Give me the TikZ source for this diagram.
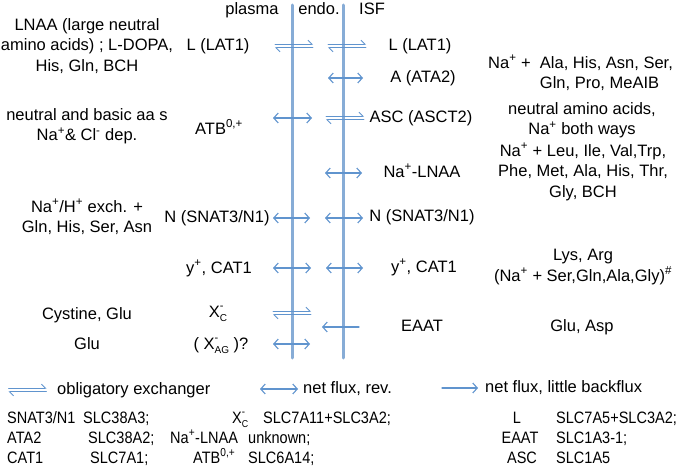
\documentclass[tikz,border=0pt]{standalone}
\usepackage{fontspec}
\setmainfont{Liberation Sans}
\newfontfamily\narrowfont[FakeStretch=0.88]{Liberation Sans}
\usetikzlibrary{arrows.meta}
\definecolor{membblue}{RGB}{135,172,214}
\definecolor{fluxblue}{RGB}{96,148,206}
\newcommand{\ionp}{\textsuperscript{+}}
\newcommand{\xion}[1]{X\makebox[0pt][l]{\raisebox{8pt}{\fontsize{11}{11}\selectfont -}}\raisebox{-4.5pt}{\fontsize{10}{10}\selectfont #1}}
\newcommand{\exch}[2]{\draw[half] (#1-19,#2-1.9) -- (#1+19,#2-1.9); \draw[half] (#1+19,#2+1.9) -- (#1-19,#2+1.9);}
\begin{document}
\begin{tikzpicture}[x=1pt,y=-1pt,font=\fontsize{16.5}{20.5}\selectfont,line cap=round,
	memb/.style={membblue,line width=3pt},
	rev/.style={fluxblue,line width=1.1pt,{Straight Barb[length=4.5pt,width=10pt]}-{Straight Barb[length=4.5pt,width=10pt]}},
	oneway/.style={fluxblue,line width=1.1pt,-{Straight Barb[length=4.5pt,width=10pt]}},
	half/.style={fluxblue,line width=0.9pt,-{Straight Barb[left,length=4pt,width=8pt]}},
	lbl/.style={inner sep=0pt,text height=12pt,text depth=3.5pt},
	blk/.style={inner sep=0pt,align=center},
	tabtext/.style={inner sep=0pt,anchor=west,text height=12pt,text depth=3.5pt,font=\fontsize{16.5}{20}\narrowfont}]
	\def\xa{292} \def\xb{343.5}
	\def\ytop{5} \def\ybot{358}
	\useasboundingbox (0,0) rectangle (685,473);
	% membranes
	\draw[memb] (\xa,\ytop)--(\xa,\ybot);
	\draw[memb] (\xb,\ytop)--(\xb,\ybot);
	\node[lbl] (plasma) at (252,10) {plasma};
	\node[lbl] (endo) at (319,10) {endo.};
	\node[lbl] (isf) at (372,10) {ISF};
	% L
	\node[blk] (lnaa) at (87,46) {LNAA (large neutral\\amino acids) ; L-DOPA,\\His, Gln, BCH};
	\node[lbl] (lplasma) at (218,46) {L (LAT1)};
	\node[lbl] (lisf) at (420,46) {L (LAT1)};
	\exch{294}{46} \exch{347}{46}
	% A
	\node[lbl] (ata2) at (423,78) {A (ATA2)};
	\node[blk,align=left,anchor=west] (alanine) at (488,73) {Na\ionp{} +\ \ Ala, His, Asn, Ser,\\\hphantom{Na\ionp{} +\ \ }Gln, Pro, MeAIB};
	\draw[rev] (328,78)--(363,78);
	% ATB, ASC
	\node[blk] (basic) at (87,126) {neutral and basic aa s\\Na\ionp\& Cl\textsuperscript{-} dep.};
	\node[lbl,anchor=west] (atb) at (195,130) {ATB\textsuperscript{0,+}};
	\node[lbl] (asct2) at (421,118) {ASC (ASCT2)};
	\node[blk] (neutral) at (582,120) {neutral amino acids,\\Na\ionp{} both ways};
	\draw[rev] (273,118)--(312,118);
	\exch{345}{118}
	% Na-LNAA
	\node[lbl] (nalnaa) at (422,173) {Na\ionp-LNAA};
	\node[blk] (leucine) at (583,172) {Na\ionp{} + Leu, Ile, Val,Trp,\\Phe, Met, Ala, His, Thr,\\Gly, BCH};
	\draw[rev] (325,173)--(362,173);
	% N
	\node[blk] (nah) at (87,217) {Na\ionp/H\ionp{} exch. +\\Gln, His, Ser, Asn};
	\node[lbl] (nplasma) at (217,218) {N (SNAT3/N1)};
	\node[lbl] (nisf) at (422,217) {N (SNAT3/N1)};
	\draw[rev] (273,218)--(310,218);
	\draw[rev] (325,218)--(363,218);
	% y+
	\node[lbl] (catplasma) at (219,269) {y\ionp, CAT1};
	\node[lbl] (catisf) at (424,268) {y\ionp, CAT1};
	\node[blk] (lysarg) at (583,267) {Lys, Arg\\(Na\ionp{} + Ser,Gln,Ala,Gly)\textsuperscript{\#}};
	\draw[rev] (273,268)--(311,268);
	\draw[rev] (326,268)--(363,268);
	% Xc, EAAT, Xag
	\node[lbl] (cystine) at (87,315) {Cystine, Glu};
	\node[lbl] (xc) at (218,313) {\xion{C}};
	\exch{292}{313}
	\node[lbl] (eaat) at (422,327) {EAAT};
	\node[lbl] (gluasp) at (582,327) {Glu, Asp};
	\draw[oneway] (359,327)--(322,327);
	\node[lbl] (glu) at (87,345) {Glu};
	\node[lbl] (xag) at (221,345) {( \xion{AG} )?};
	\draw[rev] (273,344)--(310,344);
	% legend
	\exch{27.5}{390}
	\node[lbl,anchor=west] (oblig) at (57,390) {obligatory exchanger};
	\draw[rev] (260,389)--(298,389);
	\node[lbl,anchor=west] (netrev) at (303,389) {net flux, rev.};
	\draw[oneway] (442,388)--(478,388);
	\node[lbl,anchor=west] (netone) at (485,388) {net flux, little backflux};
	% genes
	\node[tabtext] (snat) at (7,419) {SNAT3/N1};
	\node[tabtext] (snatgene) at (83,419) {SLC38A3;};
	\node[tabtext] (xcname) at (232,419) {\xion{C}};
	\node[tabtext] (xcgene) at (263,419) {SLC7A11+SLC3A2;};
	\node[tabtext,anchor=center] (lname) at (517,419) {L};
	\node[tabtext] (lgene) at (556,419) {SLC7A5+SLC3A2;};
	\node[tabtext] (ata) at (7,439) {ATA2};
	\node[tabtext] (atagene) at (88,439) {SLC38A2;};
	\node[tabtext] (naname) at (170,439) {Na\ionp-LNAA};
	\node[tabtext] (nagene) at (248,439) {unknown;};
	\node[tabtext,anchor=center] (eaatname) at (520,439) {EAAT};
	\node[tabtext] (eaatgene) at (556,439) {SLC1A3-1;};
	\node[tabtext] (cat) at (7,459) {CAT1};
	\node[tabtext] (catgene) at (90,459) {SLC7A1;};
	\node[tabtext] (atbname) at (193,459) {ATB\textsuperscript{0,+}};
	\node[tabtext] (atbgene) at (248,459) {SLC6A14;};
	\node[tabtext,anchor=center] (ascname) at (522,459) {ASC};
	\node[tabtext] (ascgene) at (556,459) {SLC1A5};
\end{tikzpicture}
\end{document}
